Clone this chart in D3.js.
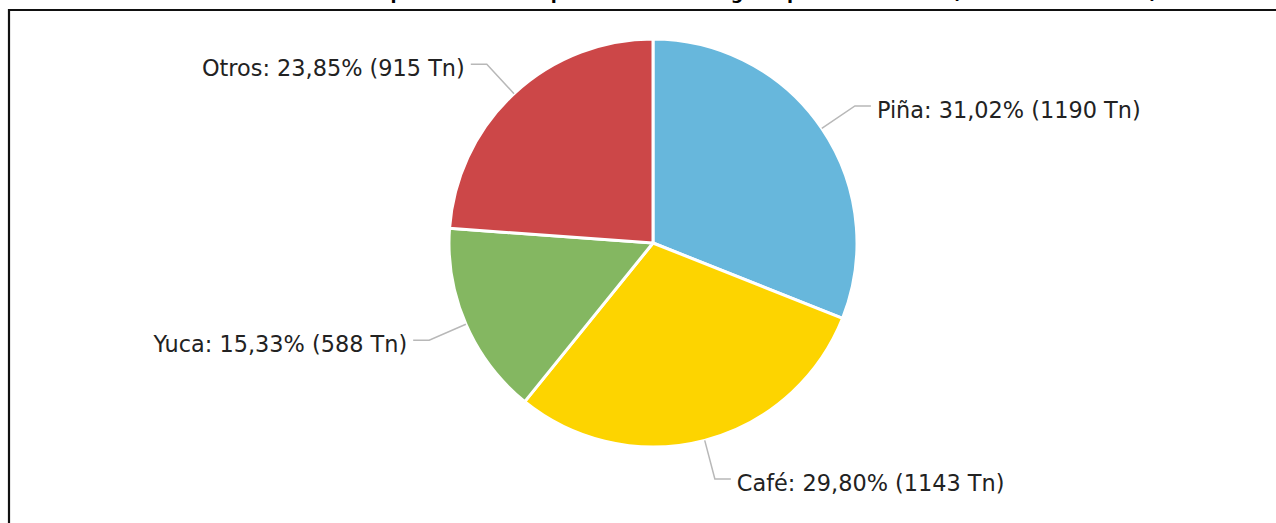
<!DOCTYPE html>
<html>
<head>
<meta charset="utf-8">
<script src="https://cdn.jsdelivr.net/npm/d3@7"></script>
<style>
  html, body { margin: 0; padding: 0; background: #fff; }
  svg { display: block; }
</style>
</head>
<body>
<svg id="chart" width="1276" height="523"></svg>
<script>
// Production share by crop (tonnes)
const categories = ["Piña", "Café", "Yuca", "Otros"];
const tonnes = [1190, 1143, 588, 915];
const percentLabels = ["31,02%", "29,80%", "15,33%", "23,85%"];
const colors = ["#67b7dc", "#fdd400", "#84b761", "#cc4748"];
const title = "Distribución de cultivos por volumen de producción total agroexportadora anual (toneladas métricas)";

const svg = d3.select("#chart");
const W = 1276, H = 523;

// Frame around the chart area
svg.append("path")
  .attr("d", `M9,${H + 5} L9,10 L${W + 5},10`)
  .attr("fill", "none")
  .attr("stroke", "#111")
  .attr("stroke-width", 2.2);

// Title sits above the frame
svg.append("text")
  .attr("x", 654)
  .attr("y", -1)
  .attr("text-anchor", "middle")
  .attr("font-family", "DejaVu Sans, Verdana, sans-serif")
  .attr("font-weight", "bold")
  .attr("font-size", 17.5)
  .attr("fill", "#000")
  .text(title);

const cx = 653, cy = 243, R = 204;
const data = categories.map((c, i) => ({ name: c, value: tonnes[i], pct: percentLabels[i], color: colors[i] }));

const pie = d3.pie().value(d => d.value).sort(null);
const arcs = pie(data);
const arc = d3.arc().innerRadius(0).outerRadius(R);

const g = svg.append("g").attr("transform", `translate(${cx},${cy})`);

g.selectAll("path.slice")
  .data(arcs)
  .join("path")
  .attr("class", "slice")
  .attr("d", arc)
  .attr("fill", d => d.data.color)
  .attr("stroke", "#fff")
  .attr("stroke-width", 3)
  .attr("stroke-linejoin", "round");

// Leader lines and labels
const bendR = R + 40, hLen = 16, gap = 6;
arcs.forEach(a => {
  const mid = (a.startAngle + a.endAngle) / 2;
  const sx = Math.sin(mid), sy = -Math.cos(mid);
  const side = sx >= 0 ? 1 : -1;
  const p0 = [R * sx, R * sy];
  const p1 = [bendR * sx, bendR * sy];
  const p2 = [p1[0] + side * hLen, p1[1]];
  g.append("polyline")
    .attr("points", [p0, p1, p2].map(p => p.join(",")).join(" "))
    .attr("fill", "none")
    .attr("stroke", "#b8b8b8")
    .attr("stroke-width", 1.5);
  g.append("text")
    .attr("x", p2[0] + side * gap)
    .attr("y", p2[1] + 4)
    .attr("dy", "0.35em")
    .attr("text-anchor", side > 0 ? "start" : "end")
    .attr("font-family", "DejaVu Sans, Verdana, sans-serif")
    .attr("font-size", 22.4)
    .attr("fill", "#222")
    .text(`${a.data.name}: ${a.data.pct} (${a.data.value} Tn)`);
});
</script>
</body>
</html>
